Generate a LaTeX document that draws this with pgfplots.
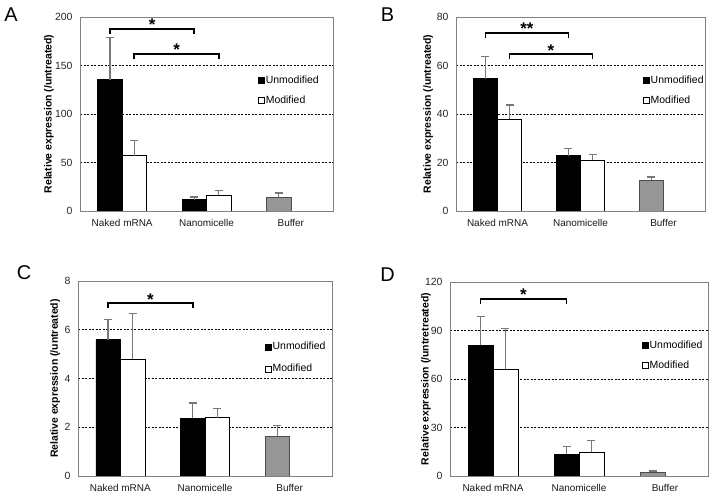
\documentclass[border=0pt]{standalone}
\usepackage{fontspec}
\setmainfont{Liberation Sans}
\usepackage{pgfplots}
\pgfplotsset{compat=1.18}
\definecolor{errgray}{RGB}{120,120,120}
\definecolor{framegray}{RGB}{130,130,130}
\definecolor{buffergray}{RGB}{150,150,150}

\pgfplotsset{
  panel/.style={
    scale only axis, anchor=south west,
    ybar, bar width=0.29,
    xmin=-0.5, xmax=2.5, ymin=0,
    xtick={0,1,2}, xticklabels={Naked mRNA,Nanomicelle,Buffer},
    major tick length=0pt,
    axis line style={draw=framegray, line width=0.8bp},
    ymajorgrids, grid style={black, line width=0.6bp, dash pattern=on 2bp off 1.5bp},
    /pgf/number format/assume math mode=true,
    yticklabel style={font=\fontsize{10.5}{12}\selectfont, text=black!85, xshift=-4bp},
    xticklabel style={font=\fontsize{10}{12}\selectfont, text=black!90, yshift=-5bp},
    ylabel={Relative expression (/untreated)},
    ylabel style={font=\bfseries\fontsize{10.5}{11}\selectfont, anchor=center},
    legend style={draw=none, fill=none, inner sep=0pt, row sep=9bp,
      font=\fontsize{10.5}{12}\selectfont, anchor=north west,
      nodes={inner sep=1bp}},
    legend cell align=left,
    error bars/y dir=plus, error bars/y explicit,
    error bars/error bar style={errgray, line width=1.4bp},
    error bars/error mark options={errgray, line width=1.4bp, mark size=4bp, rotate=90},
  },
  unmod/.style={fill=black, draw=black, line width=0.5bp, bar shift=-0.145,
    legend image code/.code={\draw[fill=black, draw=black] (0bp,-3bp) rectangle (6bp,3bp);}},
  modif/.style={fill=white, draw=black, line width=0.5bp, bar shift=0.145,
    legend image code/.code={\draw[fill=white, draw=black, line width=0.5bp] (0bp,-3bp) rectangle (6bp,3bp);}},
  buff/.style={fill=buffergray, draw=black!70, line width=0.5bp, bar shift=-0.145, forget plot},
}
\tikzset{
  bracket/.style={line width=1.8bp, black},
  star/.style={font=\bfseries\fontsize{17}{17}\selectfont, anchor=base, inner sep=0pt, yshift=-2bp},
}

\newcommand{\sigbracket}[4]{% x1, x2, y, text
  \draw[bracket] ([yshift=-5bp]axis cs:#1,#3) -- (axis cs:#1,#3) -- (axis cs:#2,#3) -- ([yshift=-5bp]axis cs:#2,#3);
  \node[star] at (axis cs:{(#1+#2)/2},#3) {#4};
}

\begin{document}
\begin{tikzpicture}
\path[use as bounding box] (0,0) rectangle (712bp,497bp);

% A
\begin{axis}[panel, at={(80bp,286bp)}, width=253bp, height=194bp,
  ymax=200, ytick={0,50,100,150,200},
  ylabel style={at={(axis description cs:-0.1225,0.5)}},
  legend style={at={(0.704,0.705)}}]
\addplot[unmod] coordinates {(0,135.4) +- (0,43.6) (1,11.7) +- (0,2.7)};
\addplot[modif] coordinates {(0,57) +- (0,15.5) (1,16.2) +- (0,4.8)};
\addplot[buff] coordinates {(2,14.4) +- (0,4.2)};
\legend{Unmodified,Modified}
\sigbracket{-0.145}{0.855}{188}{*}
\sigbracket{0.145}{1.145}{162}{*}
\end{axis}

% B
\begin{axis}[panel, at={(456bp,286bp)}, width=249bp, height=194bp,
  ymax=80, ytick={0,20,40,60,80},
  ylabel style={at={(axis description cs:-0.112,0.5)}},
  legend style={at={(0.751,0.705)}}]
\addplot[unmod] coordinates {(0,54.6) +- (0,9.2) (1,22.8) +- (0,3.0)};
\addplot[modif] coordinates {(0,37.9) +- (0,5.8) (1,21.0) +- (0,2.4)};
\addplot[buff] coordinates {(2,12.6) +- (0,1.4)};
\legend{Unmodified,Modified}
\sigbracket{-0.145}{0.855}{73.4}{**}
\sigbracket{0.145}{1.145}{64.7}{*}
\end{axis}

% C
\begin{axis}[panel, at={(78bp,21bp)}, width=254bp, height=195bp,
  ymax=8, ytick={0,2,4,6,8},
  ylabel style={at={(axis description cs:-0.09,0.5)}},
  legend style={at={(0.736,0.692)}}, legend style={row sep=11bp}]
\addplot[unmod] coordinates {(0,5.6) +- (0,0.81) (1,2.37) +- (0,0.62)};
\addplot[modif] coordinates {(0,4.81) +- (0,1.86) (1,2.39) +- (0,0.38)};
\addplot[buff] coordinates {(2,1.63) +- (0,0.44)};
\legend{Unmodified,Modified}
\sigbracket{-0.145}{0.855}{7.09}{*}
\end{axis}

% D
\begin{axis}[panel, at={(450bp,21bp)}, width=258bp, height=194bp,
  ymax=120, ytick={0,30,60,90,120},
  ylabel={Relative expression (/untretreated)},
  ylabel style={at={(axis description cs:-0.093,0.5)}},
  legend style={at={(0.744,0.705)}}]
\addplot[unmod] coordinates {(0,80.9) +- (0,17.9) (1,13.4) +- (0,4.9)};
\addplot[modif] coordinates {(0,66.1) +- (0,25.3) (1,14.8) +- (0,7.2)};
\addplot[buff] coordinates {(2,2.5) +- (0,0.6)};
\legend{Unmodified,Modified}
\sigbracket{-0.145}{0.855}{109.5}{*}
\end{axis}

% panel letters
\node[font=\fontsize{20}{22}\selectfont, inner sep=0pt] at (11bp,482bp) {A};
\node[font=\fontsize{20}{22}\selectfont, inner sep=0pt] at (387.5bp,482bp) {B};
\node[font=\fontsize{20}{22}\selectfont, inner sep=0pt] at (24bp,224bp) {C};
\node[font=\fontsize{20}{22}\selectfont, inner sep=0pt] at (387.5bp,222bp) {D};
\end{tikzpicture}
\end{document}
